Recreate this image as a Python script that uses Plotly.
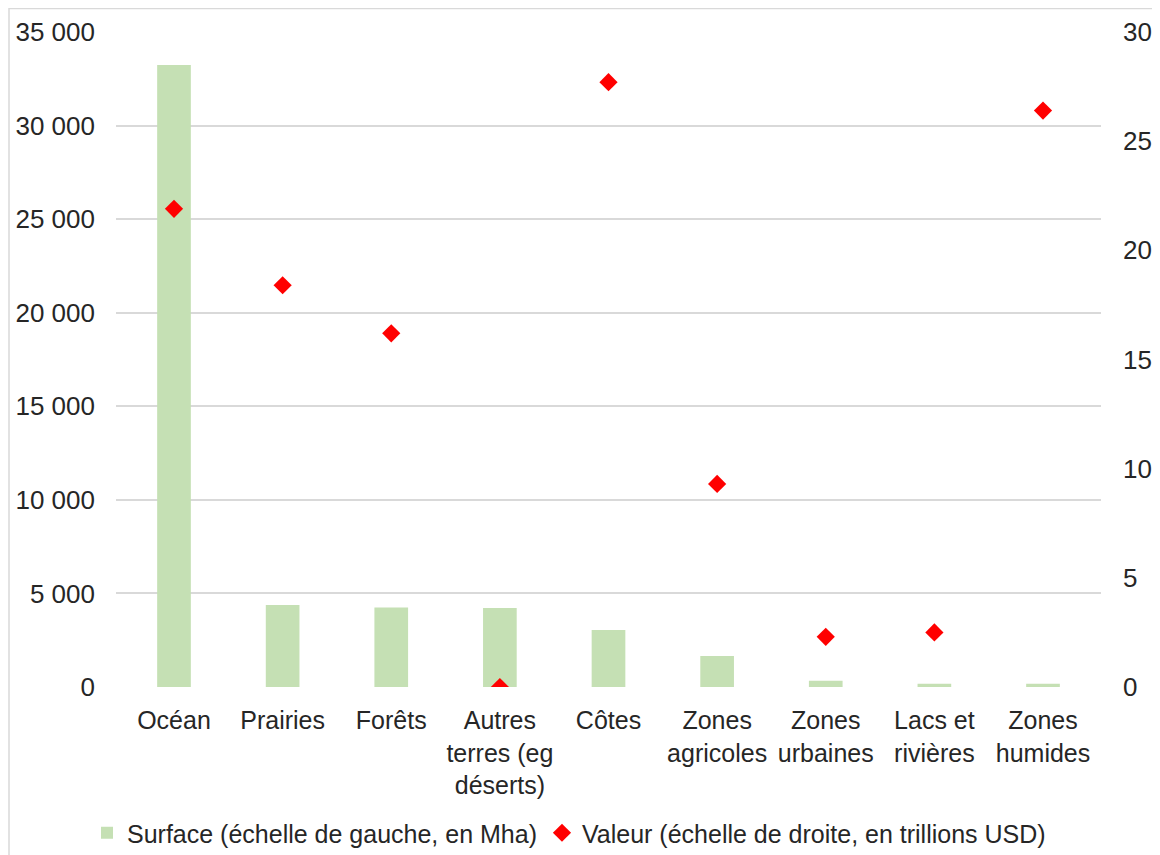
import plotly.graph_objects as go

categories = ["Océan", "Prairies", "Forêts", "Autres<br>terres (eg<br>déserts)", "Côtes",
              "Zones<br>agricoles", "Zones<br>urbaines", "Lacs et<br>rivières", "Zones<br>humides"]
surface_mha = [33240, 4380, 4250, 4220, 3050, 1660, 330, 180, 180]
valeur_tusd = [21.9, 18.4, 16.2, 0.0, 27.7, 9.3, 2.3, 2.5, 26.4]

left_ticks = [0, 5000, 10000, 15000, 20000, 25000, 30000, 35000]
right_ticks = [0, 5, 10, 15, 20, 25, 30]

FONT = "Liberation Sans, Arial, sans-serif"
TXT = "#262626"

fig = go.Figure()
fig.add_trace(go.Bar(
    x=categories, y=surface_mha,
    name="Surface (échelle de gauche, en Mha)",
    marker=dict(color="#c5e0b4", line=dict(width=0)),
    yaxis="y",
))
fig.add_trace(go.Scatter(
    x=categories, y=valeur_tusd,
    name="Valeur (échelle de droite, en trillions USD)",
    mode="markers",
    marker=dict(symbol="diamond", color="#ff0000", size=14, line=dict(width=0)),
    yaxis="y2",
))

# page body has an 8px margin: screen = figure + 8
OFF = 8
W, H = 1160, 855
L = 116 - OFF
T = 32 - OFF
R = W - (1101 - OFF)
B = H - (687 - OFF)
pw, ph = W - L - R, H - T - B

def sx(px):  # screen x -> paper x
    return (px - OFF - L) / pw

def sy(py):  # screen y -> paper y
    return (H - B - (py - OFF)) / ph

fig.update_layout(
    width=W, height=H,
    margin=dict(l=L, r=R, t=T, b=B, autoexpand=False),
    paper_bgcolor="white", plot_bgcolor="white",
    separators=", ",
    font=dict(family=FONT, size=25, color=TXT),
    bargap=0.69,
    showlegend=True,
    legend=dict(orientation="h", x=sx(87), xanchor="left", y=sy(833), yanchor="middle",
                font=dict(size=25, color=TXT), itemwidth=30, tracegroupgap=0,
                bgcolor="rgba(0,0,0,0)"),
    xaxis=dict(showgrid=False, showline=False, ticks="", tickfont=dict(size=25, color=TXT),
               ticklabelstandoff=16, fixedrange=True),
    yaxis=dict(range=[0, 35000], tickvals=left_ticks, tickformat=",d",
               showgrid=True, gridcolor="#d9d9d9", gridwidth=1.5, zeroline=False,
               showline=False, ticks="", tickfont=dict(size=26, color=TXT),
               ticklabelstandoff=20),
    yaxis2=dict(range=[0, 30], tickvals=right_ticks, overlaying="y", side="right",
                showgrid=False, zeroline=False, showline=False, ticks="",
                tickfont=dict(size=26, color=TXT), ticklabelstandoff=21),
    shapes=[dict(type="rect", xref="paper", yref="paper",
                 x0=sx(9), x1=sx(1158), y0=sy(880), y1=sy(8.5),
                 line=dict(color="#d9d9d9", width=1.5), fillcolor="rgba(0,0,0,0)", layer="below")],
)

fig.write_html("out.html")
